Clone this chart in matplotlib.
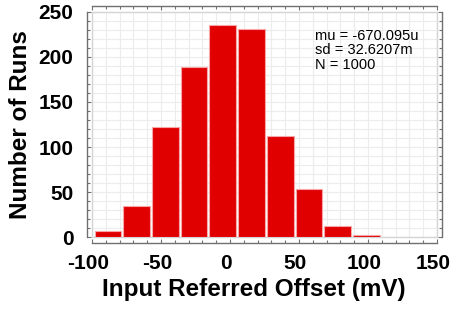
import matplotlib
matplotlib.use("Agg")
import matplotlib.pyplot as plt
from matplotlib.patches import Rectangle
from matplotlib.ticker import MultipleLocator
import matplotlib.transforms as mtransforms

# Data
bin_centers = [-88.4, -67.6, -46.8, -26.0, -5.2, 15.6, 36.4, 57.2, 78.0, 98.8]
bin_width = 20.78
counts = [7, 35, 122, 189, 235, 231, 112, 53, 13, 3]
xticks = [-100, -50, 0, 50, 100, 150]
yticks = [0, 50, 100, 150, 200, 250]
stats_text = "mu = -670.095u\nsd = 32.6207m\nN = 1000"

plt.rcParams['font.family'] = ['Liberation Sans', 'DejaVu Sans']
plt.rcParams['axes.unicode_minus'] = False

fig = plt.figure(figsize=(4.54, 3.10), dpi=100)
W, H = 454, 310
x0, x1 = 92, 437
y0, y1 = 237.3, 11.7
ax = fig.add_axes([x0 / W, (H - y0) / H, (x1 - x0) / W, (y0 - y1) / H])

ax.bar(bin_centers, counts, width=bin_width * 0.93, color='#e00000',
       edgecolor='#f7a5a5', linewidth=0.8, zorder=3)

ax.set_xlim(-100, 150)
ax.set_ylim(0, 250)
ax.set_xticks(xticks)
ax.set_yticks(yticks)
ax.xaxis.set_minor_locator(MultipleLocator(10))
ax.yaxis.set_minor_locator(MultipleLocator(10))

ax.grid(True, which='both', color='#ececec', linewidth=0.8, zorder=0)
ax.set_axisbelow(True)

# light plot box
ax.add_patch(Rectangle((0, 0), 1, 1, transform=ax.transAxes, fill=False,
                       edgecolor='#d4d4d4', linewidth=1.0, zorder=2, clip_on=False))

for s in ['left', 'right', 'top', 'bottom']:
    ax.spines[s].set_position(('outward', 3.8))
    ax.spines[s].set_color('#707070')
    ax.spines[s].set_linewidth(1.0)

ax.tick_params(which='both', top=True, right=True, color='#707070', width=0.8)
ax.tick_params(axis='x', which='both', direction='in')
ax.tick_params(axis='y', which='both', direction='in')
ax.tick_params(which='major', length=3)
ax.tick_params(which='minor', length=2)
ax.tick_params(axis='x', labelsize=15, pad=8)
ax.tick_params(axis='y', labelsize=15, pad=9.5)

for lab in ax.get_xticklabels() + ax.get_yticklabels():
    lab.set_fontweight('bold')

offset = mtransforms.ScaledTranslation(-4 / 100, 0, fig.dpi_scale_trans)
for lab in ax.get_xticklabels():
    lab.set_transform(lab.get_transform() + offset)

ax.set_xlabel("Input Referred Offset (mV)", fontsize=17.5, fontweight='bold', labelpad=4)
ax.xaxis.label.set_x(0.468)
ax.set_ylabel("Number of Runs", fontsize=17.5, fontweight='bold', labelpad=5)

ax.text(61.6, 231, stats_text, fontsize=10.5, va='top', ha='left',
        linespacing=1.05, zorder=4)

fig.savefig("out.png", dpi=100)
